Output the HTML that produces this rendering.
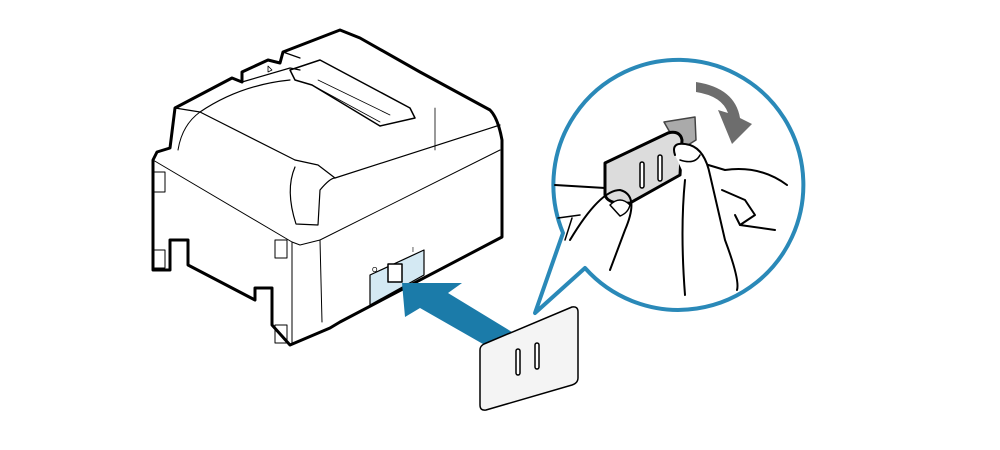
<!DOCTYPE html>
<html><head><meta charset="utf-8"><style>html,body{margin:0;padding:0;background:#fff}svg{display:block}</style></head>
<body>
<svg width="1000" height="450" viewBox="0 0 1000 450" xmlns="http://www.w3.org/2000/svg" fill="none" stroke="#000" stroke-linejoin="round" stroke-linecap="round">
<!-- printer body -->
<path d="M153,160 L153,270 L170,270 L170,240 L188,240 L188,265 L255,300 L255,288 L272,288 L272,325 L290,345 L330,328 L340,322 L502,237 L502,140 Q498,118 490,110 L420,72 L360,38 L340,30 L283,52 L280,63 L268,60 L242,72 L242,82 L232,78 L175,108 L170,148 L157,152 Z" fill="#fff" stroke-width="3"/>
<path d="M153,160 L292,242 L300,245 L320,240 L500,150" stroke-width="1"/>
<path d="M292,242 L292,345 M320,240 L322,322" stroke-width="1"/>
<path d="M175,108 L200,112 L295,160 M200,112 Q240,85 290,80" stroke-width="1.2"/>
<path d="M178,150 Q182,125 200,112" stroke-width="1"/>
<path d="M295,160 L318,165 L335,178 L500,125" stroke-width="1.2"/>
<path d="M242,82 L290,68 L300,70 M283,52 L300,58" stroke-width="1.2"/>
<path d="M295,167 Q285,190 296,224 L318,225 L320,190 Q330,178 335,178" stroke-width="1.2"/>
<path d="M290,70 L320,60 L410,108 L415,118 L380,126 L312,85 L295,80 Z" stroke-width="1.5"/>
<path d="M312,85 L380,122 M318,80 L390,115" stroke-width="0.8"/>
<path d="M435,108 L435,150" stroke-width="0.8"/>
<path d="M268,66 L272,70 L268,72 Z" stroke-width="0.8"/>
<!-- corner squares -->
<rect x="153" y="172" width="12" height="20" stroke-width="1"/>
<rect x="153" y="250" width="12" height="18" stroke-width="1"/>
<rect x="275" y="240" width="12" height="18" stroke-width="1"/>
<rect x="275" y="325" width="12" height="18" stroke-width="1"/>
<!-- switch panel -->
<path d="M370,275 L424,250 L424,275 L370,305 Z" fill="#d4e9f3" stroke-width="1.2"/>
<rect x="388" y="264" width="14" height="18" fill="#fff" stroke-width="1.5"/>
<text x="372" y="272" font-family="Liberation Sans, sans-serif" font-size="7" fill="#000" stroke="none">O</text>
<text x="412" y="252" font-family="Liberation Sans, sans-serif" font-size="7" fill="#000" stroke="none">I</text>
<!-- blue arrow -->
<path d="M402,283 L462,283 L448,293 L512,332 L490,348 L420,308 L405,317 Z" fill="#1b7ba9" stroke="none"/>
<!-- card -->
<path d="M484,344 L572,307 Q578,306 578,312 L578,378 Q578,383 572,385 L486,410 Q480,411 480,405 L480,350 Q480,346 484,344 Z" fill="#f4f4f4" stroke-width="1.5"/>
<rect x="516" y="349" width="4" height="26" rx="2" fill="#fff" stroke-width="1.5"/>
<rect x="535" y="343" width="4" height="26" rx="2" fill="#fff" stroke-width="1.5"/>
<!-- bubble -->
<path d="M563,233 A125,125 0 1 1 585,268 L535,313 Z" fill="#fff" stroke="#2a89b8" stroke-width="4"/>
<!-- curved arrow -->
<path d="M696,82 Q735,88 740,118 L752,124 L732,144 L718,110 L728,113 Q722,96 696,92 Z" fill="#6d6d6d" stroke="none"/>
<!-- card in hand -->
<path d="M664,122 L695,117 L696,140 L680,150 Z" fill="#aaa" stroke="#444" stroke-width="1.5"/>
<path d="M605,163 L668,133 Q680,130 682,140 L680,175 L630,203 Q608,205 605,195 Z" fill="#dcdcdc" stroke-width="3"/>
<rect x="640" y="162" width="4" height="26" rx="2" fill="#fff" stroke-width="1.5"/>
<rect x="658" y="155" width="4" height="26" rx="2" fill="#fff" stroke-width="1.5"/>
<!-- hands -->
<path d="M555,185 L605,188" stroke-width="2"/>
<path d="M685,158 L725,170 Q760,165 787,185" stroke-width="2"/>
<path d="M570,240 Q600,190 620,190 Q640,195 625,230 L610,270" stroke-width="2"/>
<path d="M610,205 Q620,195 630,205 Q628,213 620,216 Z" fill="#fff" stroke-width="1.5"/>
<path d="M675,155 Q670,140 690,145 Q705,150 710,175 L725,240 Q740,280 737,290" fill="#fff" stroke-width="2"/>
<path d="M680,160 Q695,165 700,155" stroke-width="1.5"/>
<path d="M685,180 Q680,230 685,295" stroke-width="2"/>
<path d="M722,190 L745,200 L755,215 L740,225 L735,215" stroke-width="2"/>
<path d="M740,225 L775,230" stroke-width="2"/>
<path d="M558,218 L580,215 M572,218 L565,240" stroke-width="1.5"/>
</svg>
</body></html>
